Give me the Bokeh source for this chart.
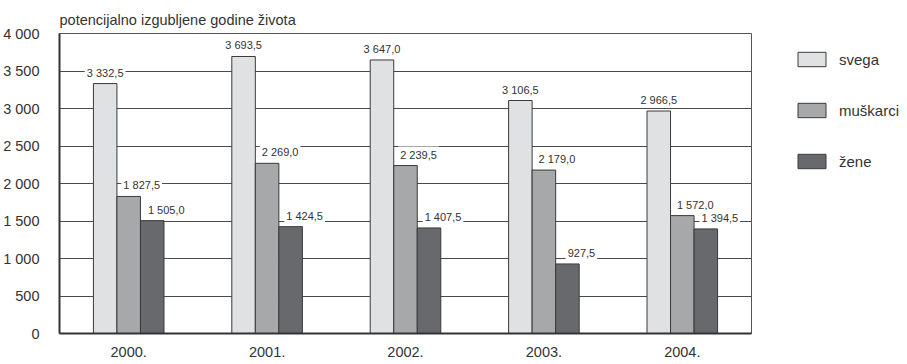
from bokeh.plotting import figure
from bokeh.models import ColumnDataSource, Legend, LegendItem, FixedTicker, Range1d
from bokeh.core.properties import value
from bokeh.embed import file_html
from bokeh.resources import INLINE

years = ["2000.", "2001.", "2002.", "2003.", "2004."]
series_names = ["svega", "muškarci", "žene"]
svega = [3332.5, 3693.5, 3647.0, 3106.5, 2966.5]
muskarci = [1827.5, 2269.0, 2239.5, 2179.0, 1572.0]
zene = [1505.0, 1424.5, 1407.5, 927.5, 1394.5]
y_ticks = [0, 500, 1000, 1500, 2000, 2500, 3000, 3500, 4000]
title_text = "potencijalno izgubljene godine života"

colors = ["#e0e1e3", "#a7a8aa", "#68696d"]
FONT = "'Liberation Sans', Arial, sans-serif"
TXT = "#333333"


def fmt(v):
    s = f"{v:,.1f}"
    return s.replace(",", " ").replace(".", ",")


def fmt_int(v):
    return f"{v:,}".replace(",", " ")


FRAME_W, FRAME_H = 692, 300
p = figure(frame_width=FRAME_W, frame_height=FRAME_H, output_backend="svg", toolbar_location=None,
           x_range=Range1d(-0.5, 4.5), y_range=Range1d(0, 4000),
           min_border_left=53, min_border_right=0, min_border_top=33, min_border_bottom=20)

p.background_fill_color = "white"
p.border_fill_color = "white"
p.outline_line_color = "#555555"
p.outline_line_width = 1

p.title.text = title_text
p.title.align = "left"
p.title.text_font = FONT
p.title.text_font_size = "14.5px"
p.title.text_font_style = "normal"
p.title.text_color = TXT
p.title.standoff = 12
p.title.offset = 0

p.xgrid.grid_line_color = None
p.ygrid.grid_line_color = "#4a4a4a"
p.ygrid.grid_line_width = 1
p.ygrid.ticker = FixedTicker(ticks=y_ticks)

p.yaxis.ticker = FixedTicker(ticks=y_ticks)
p.yaxis.major_label_overrides = {t: fmt_int(t) for t in y_ticks}
p.yaxis.major_tick_line_color = None
p.yaxis.minor_tick_line_color = None
p.yaxis.axis_line_color = "#333333"
p.yaxis.axis_line_width = 2
p.yaxis.major_label_standoff = 14
p.yaxis.major_label_text_font = FONT
p.yaxis.major_label_text_font_size = "14.5px"
p.yaxis.major_label_text_color = TXT

p.xaxis.ticker = FixedTicker(ticks=list(range(len(years))))
p.xaxis.major_label_overrides = {i: y for i, y in enumerate(years)}
p.xaxis.major_tick_line_color = None
p.xaxis.minor_tick_line_color = None
p.xaxis.axis_line_color = "#333333"
p.xaxis.axis_line_width = 2
p.xaxis.major_label_standoff = 7
p.xaxis.major_label_text_font = FONT
p.xaxis.major_label_text_font_size = "14.5px"
p.xaxis.major_label_text_color = TXT

bw = 0.17
offsets = [-bw, 0.0, bw]
label_dx = [0, 13, 14]
px_per_unit = 4000 / FRAME_H
renderers = []
for vals, name, col, off, dx in zip([svega, muskarci, zene], series_names, colors, offsets, label_dx):
    xs = [i + off for i in range(len(years))]
    src = ColumnDataSource(dict(x=xs, top=vals,
                                ly=[v + 11 * px_per_unit for v in vals],
                                lab=[fmt(v) for v in vals]))
    r = p.vbar(x="x", top="top", width=bw, bottom=0, source=src,
               fill_color=col, line_color="#3a3a3a", line_width=1)
    renderers.append(r)
    p.text(x="x", y="ly", text="lab", source=src, x_offset=dx,
           text_align="center", text_baseline="middle",
           text_font=value(FONT), text_font_size="11px", text_color=TXT,
           background_fill_color="white", padding=2)

legend = Legend(items=[LegendItem(label=n, renderers=[r]) for n, r in zip(series_names, renderers)],
                location=(43, 163), orientation="vertical",
                glyph_width=35, glyph_height=18, label_height=18, spacing=33,
                label_standoff=10, padding=0, margin=0,
                border_line_color=None, background_fill_alpha=0,
                label_text_font=FONT, label_text_font_size="15px", label_text_color=TXT)
p.add_layout(legend, "right")

open("out.html", "w").write(file_html(p, INLINE))
